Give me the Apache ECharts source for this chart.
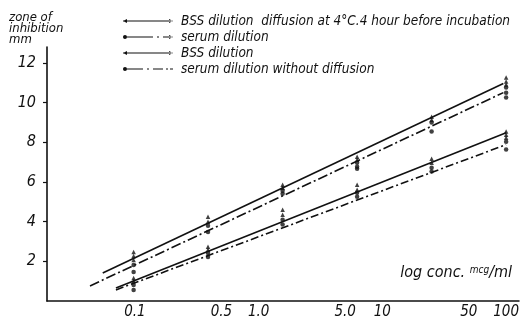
<!DOCTYPE html>
<html><head><meta charset="utf-8">
<script src="https://cdn.jsdelivr.net/npm/echarts@6/dist/echarts.min.js"></script>
<style>html,body{margin:0;padding:0;background:#fff}#c{width:522px;height:322px}</style>
</head><body><div id="c"></div>
<script>
// ---- data ----
const xTicks = [0.1, 0.5, 1, 5, 10, 50, 100];
const xTickLabels = ['0.1', '0.5', '1.0', '5.0', '10', '50', '100'];
const yTicks = [2, 4, 6, 8, 10, 12];
const concs = [0.0977, 0.39, 1.5625, 6.25, 25, 100];

const seriesNames = [
  'BSS dilution  diffusion at 4°C.4 hour before incubation',
  'serum dilution',
  'BSS dilution',
  'serum dilution without diffusion'
];
// replicate zone readings at each concentration
const bssDiffPts    = [[2.47, 2.27, 2.07], [4.24, 3.99], [5.86, 5.71], [7.27, 7.12], [9.29, 9.14], [11.26, 11.06, 10.91]];
const serumPts      = [[1.82, 1.46], [3.79, 3.48], [5.56, 5.40], [6.97, 6.77, 6.67], [8.99, 8.54], [10.76, 10.5, 10.25]];
const bssPts        = [[1.16, 1.01], [2.73, 2.58], [4.6, 4.35], [5.86, 5.61], [7.17, 6.97], [8.54, 8.38, 8.23]];
const serumNoDifPts = [[0.81, 0.56], [2.42, 2.22], [4.1, 3.85], [5.45, 5.25], [6.72, 6.52], [8.03, 7.63]];
// fitted regression lines: [conc, zone] endpoints
const bssDiffLine    = [[0.055, 1.41], [95, 10.96]];
const serumLine      = [[0.0434, 0.76], [95, 10.5]];
const bssLine        = [[0.0703, 0.66], [100, 8.48]];
const serumNoDifLine = [[0.0703, 0.56], [100, 7.88]];

// ---- chart ----
const FONT = '"DejaVu Sans Condensed", "DejaVu Sans", sans-serif';
const INK = '#111';
const pts = [bssDiffPts, serumPts, bssPts, serumNoDifPts];
const lines = [bssDiffLine, serumLine, bssLine, serumNoDifLine];
const dashes = ['solid', [10, 3, 2, 3], 'solid', [8, 3, 2, 3]];
const symbols = ['triangle', 'circle', 'triangle', 'circle'];
const legendIcons = [
  'path://M0,4.4 L50,4.4 L50,5.6 L0,5.6 Z M0,5 L4,3 L4,7 Z M50,5 L46,3 L46,7 Z',
  'path://M0,4.4 L30,4.4 L30,5.6 L0,5.6 Z M34,4.4 L36,4.4 L36,5.6 L34,5.6 Z M40,4.4 L50,4.4 L50,5.6 L40,5.6 Z M0,5 A2,2 0 1 1 4,5 A2,2 0 1 1 0,5 Z M50,5 L46,3 L46,7 Z',
  'path://M0,4.4 L50,4.4 L50,5.6 L0,5.6 Z M0,5 L4,3 L4,7 Z M50,5 L46,3 L46,7 Z',
  'path://M0,4.4 L20,4.4 L20,5.6 L0,5.6 Z M24,4.4 L26,4.4 L26,5.6 L24,5.6 Z M30,4.4 L40,4.4 L40,5.6 L30,5.6 Z M43,4.4 L45,4.4 L45,5.6 L43,5.6 Z M47,4.4 L50,4.4 L50,5.6 L47,5.6 Z M0,5 A2,2 0 1 1 4,5 A2,2 0 1 1 0,5 Z'
];

const series = [];
seriesNames.forEach((name, i) => {
  series.push({
    type: 'line', name, data: lines[i], symbol: 'none', silent: true,
    lineStyle: { color: INK, width: 1.6, type: dashes[i] }, itemStyle: { color: INK }, z: 2
  });
  const flat = [];
  concs.forEach((c, k) => pts[i][k].forEach(v => flat.push([c, v])));
  series.push({
    type: 'scatter', name, data: flat, symbol: symbols[i], symbolSize: 4.5,
    itemStyle: { color: INK }, z: 3
  });
});

const chart = echarts.init(document.getElementById('c'), null, { renderer: 'canvas' });
chart.setOption({
  animation: false,
  backgroundColor: '#fff',
  grid: { left: 47, right: 2, top: 47, bottom: 21, containLabel: false },
  legend: {
    orient: 'vertical', left: 118, top: 9, itemWidth: 50, itemHeight: 10, itemGap: 2,
    data: seriesNames.map((n, i) => ({ name: n, icon: legendIcons[i], itemStyle: { color: INK } })),
    textStyle: { fontFamily: FONT, fontStyle: 'italic', fontSize: 13.5, color: INK, padding: [0, 0, 0, 3] },
    selectedMode: false
  },
  xAxis: {
    type: 'log', logBase: 10, min: 0.0195, max: 127,
    axisLine: { show: true, onZero: false, lineStyle: { color: INK, width: 1.6 } },
    axisTick: { show: false },
    splitLine: { show: false }, minorTick: { show: false },
    axisLabel: {
      customValues: xTicks,
      formatter: v => { const i = xTicks.findIndex(t => Math.abs(t - v) < 1e-9); return i >= 0 ? xTickLabels[i] : ''; },
      fontFamily: FONT, fontStyle: 'italic', fontSize: 15, color: INK, margin: 4
    }
  },
  yAxis: {
    type: 'value', min: 0, max: 12.8,
    axisLine: { show: true, lineStyle: { color: INK, width: 1.6 } },
    axisTick: { show: true, customValues: yTicks, length: 4, lineStyle: { color: INK, width: 1.2 } },
    splitLine: { show: false },
    axisLabel: { customValues: yTicks, fontFamily: FONT, fontStyle: 'italic', fontSize: 16, color: INK, margin: 11 }
  },
  graphic: [
    { type: 'text', left: 9, top: 11, style: { text: 'zone of\ninhibition\nmm', font: 'italic 13px ' + FONT, fill: INK, lineHeight: 11 } },
    { type: 'text', right: 10, top: 265, style: {
        text: '{a|log conc. }{s|mcg}{a|/ml}',
        rich: { a: { font: 'italic 16px ' + FONT, fill: INK, verticalAlign: 'bottom' },
                s: { font: 'italic 10px ' + FONT, fill: INK, verticalAlign: 'top', padding: [0, 0, 6, 0] } } } }
  ],
  series
});
</script>
</body></html>
